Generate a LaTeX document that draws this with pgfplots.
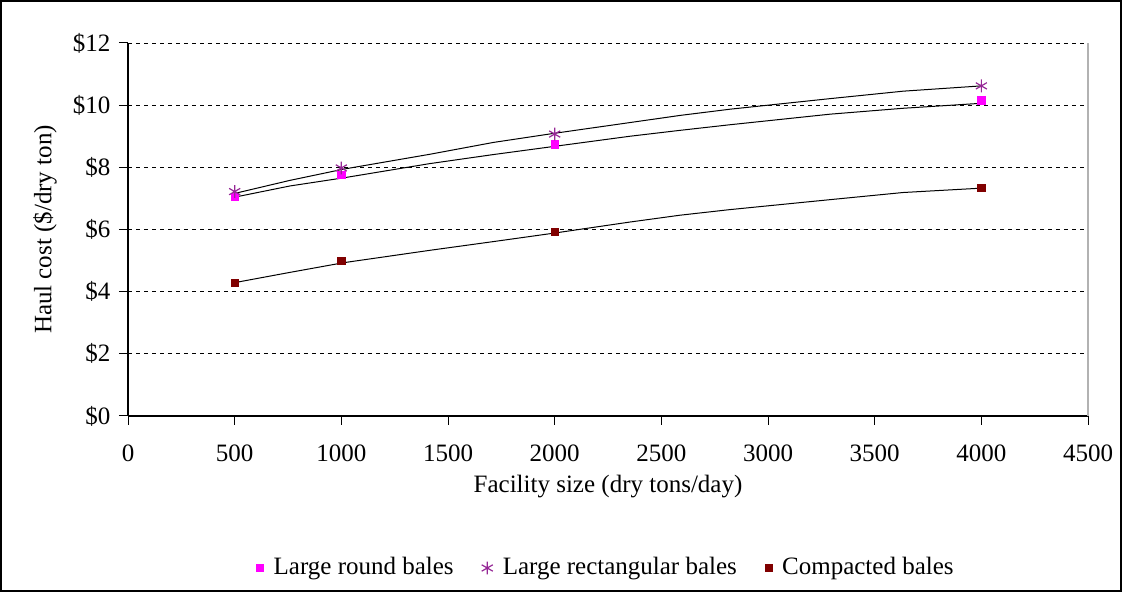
\documentclass[border=0pt]{standalone}
\usepackage{pgfplots}
\pgfplotsset{compat=1.18}
\usepackage{fontspec}
\setmainfont{Liberation Serif}
\definecolor{mag}{RGB}{255,0,255}
\definecolor{purp}{RGB}{150,40,150}
\definecolor{maroon}{RGB}{128,0,0}
\begin{document}
\fontsize{12.5}{15}\selectfont
\begin{tikzpicture}
\useasboundingbox (0,0) rectangle (561pt,296pt);
\draw[black, line width=0.8pt] (0.4pt,0.4pt) rectangle (560.6pt,295.6pt);
\begin{axis}[
  at={(64pt,88pt)}, anchor=south west,
  width=480pt, height=186.5pt, scale only axis,
  xmin=0, xmax=4500, ymin=0, ymax=12,
  xtick={0,500,...,4500}, ytick={0,2,...,12},
  axis x line*=bottom, axis y line*=left,
  tick align=outside, major tick length=4.5pt,
  tick style={black, line width=0.5pt},
  axis line style={black, line width=0.6pt, -},
  /pgf/number format/assume math mode=true,
  /pgf/number format/set thousands separator={},
  yticklabel={\$\pgfmathprintnumber{\tick}},
  ticklabel style={font=\fontsize{12.5}{15}\selectfont},
  xticklabel style={yshift=-5.5pt},
  ymajorgrids, major grid style={dash pattern=on 2pt off 2pt, black, line width=0.4pt},
  xlabel={Facility size (dry tons/day)},
  ylabel={Haul cost (\$/dry ton)},
  label style={font=\fontsize{12.5}{15}\selectfont},
  xlabel style={at={(axis description cs:0.5,-0.19)}, anchor=center},
  ylabel style={at={(axis description cs:-0.0865,0.5)}, anchor=center, rotate=0},
  legend columns=3,
  legend style={at={(axis description cs:0.499,-0.4075)}, anchor=center, draw=none, fill=none,
    font=\fontsize{12.5}{15}\selectfont,
    /tikz/every even column/.append style={column sep=12pt},
    /tikz/every odd column/.append style={column sep=3pt}},
  legend cell align=left,
  clip=false,
]
\draw[gray!60, line width=0.6pt] (rel axis cs:1,0) -- (rel axis cs:1,1);
% trend lines
\addplot[black, line width=0.5pt, forget plot] coordinates {
(500,7.04) (759,7.40) (1009,7.66) (1415,8.12) (1712,8.41) (1994,8.67) (2353,9.00) (2588,9.19) (2822,9.37) (3291,9.71) (3634,9.90) (4000,10.06)};
\addplot[black, line width=0.5pt, forget plot] coordinates {
(500,7.16) (759,7.58) (1009,7.94) (1415,8.42) (1712,8.80) (1994,9.09) (2353,9.44) (2588,9.67) (2822,9.87) (3291,10.21) (3634,10.45) (4000,10.62)};
\addplot[black, line width=0.5pt, forget plot] coordinates {
(500,4.29) (759,4.62) (1009,4.93) (1415,5.33) (1712,5.61) (1994,5.88) (2353,6.24) (2588,6.46) (2822,6.64) (3291,6.96) (3634,7.19) (4000,7.33)};
% data points
\addplot[only marks, mark=square*, mark size=1.8pt, color=mag] coordinates {
(500,7.06) (1000,7.75) (2000,8.74) (4000,10.15)};
\addlegendentry{Large round bales}
\addplot[only marks, mark=asterisk, mark size=3.2pt, color=purp, mark options={line width=0.6pt}] coordinates {
(500,7.22) (1000,7.98) (2000,9.07) (4000,10.62)};
\addlegendentry{Large rectangular bales}
\addplot[only marks, mark=square*, mark size=1.8pt, color=maroon] coordinates {
(500,4.29) (1000,4.99) (2000,5.91) (4000,7.35)};
\addlegendentry{Compacted bales}
\end{axis}
\end{tikzpicture}
\end{document}
